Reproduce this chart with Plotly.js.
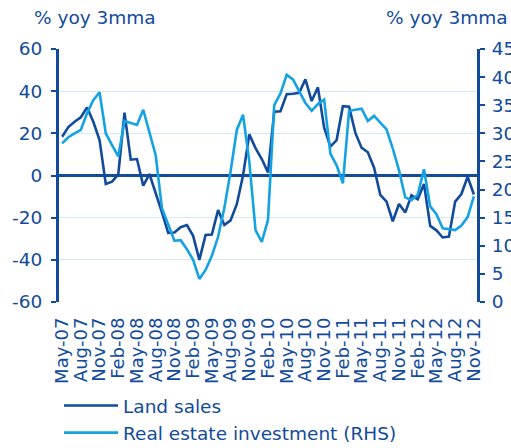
<!DOCTYPE html>
<html><head><meta charset="utf-8">
<script src="https://cdn.plot.ly/plotly-3.0.1.min.js"></script>
<style>html,body{margin:0;padding:0;background:#fff}#chart{width:511px;height:448px}</style>
</head><body><div id="chart"></div>
<script>
const months = ["May-07","Jun-07","Jul-07","Aug-07","Sep-07","Oct-07","Nov-07","Dec-07",
"Jan-08","Feb-08","Mar-08","Apr-08","May-08","Jun-08","Jul-08","Aug-08","Sep-08","Oct-08","Nov-08","Dec-08",
"Jan-09","Feb-09","Mar-09","Apr-09","May-09","Jun-09","Jul-09","Aug-09","Sep-09","Oct-09","Nov-09","Dec-09",
"Jan-10","Feb-10","Mar-10","Apr-10","May-10","Jun-10","Jul-10","Aug-10","Sep-10","Oct-10","Nov-10","Dec-10",
"Jan-11","Feb-11","Mar-11","Apr-11","May-11","Jun-11","Jul-11","Aug-11","Sep-11","Oct-11","Nov-11","Dec-11",
"Jan-12","Feb-12","Mar-12","Apr-12","May-12","Jun-12","Jul-12","Aug-12","Sep-12","Oct-12","Nov-12"];

const landSales = [18.4,23,25.5,27.6,32.3,25.5,16.8,-4,
-2.9,0.5,29.8,7.5,7.8,-4.8,0.7,-8,-17.5,-27.2,-27,-24.5,
-23.5,-28.6,-40,-28.2,-28,-16.4,-23.5,-21.3,-13.6,0,19.5,13,
7.8,1.5,30.3,30.5,38.6,38.8,39.2,45.6,35.3,41.8,22.7,13.7,
16.8,32.9,32.6,20.2,13.2,11,3.7,-9.2,-12.4,-21.7,-13.5,-17.6,
-9.4,-11.3,-4,-23.9,-26,-29.4,-29,-12.4,-8.8,-0.6,-9];

const realEstate = [28.2,29.3,30,30.6,33.6,35.9,37.3,30,
27.9,25.9,32.2,31.9,31.5,34.2,30.3,26.1,16.7,13.8,10.9,11,
9.4,7.5,4.1,5.7,8.2,11.6,16.7,23.2,30.6,33.3,25,12.8,
10.7,14.6,35,37.1,40.4,39.6,37.6,35.4,34,35.2,36,26.4,
24.3,21.1,34,34.2,34.4,32.2,33.1,31.9,30.7,27.3,23.4,18.6,
18.1,19.1,23.6,17,15.6,13.1,12.9,12.8,13.6,15.1,18.8];

const seriesNames = ["Land sales", "Real estate investment (RHS)"];
const axisTitle = "% yoy 3mma";
const leftTicks = [-60,-40,-20,0,20,40,60];
const rightTicks = [0,5,10,15,20,25,30,35,40,45];

const DARK = '#124b9c';
const LIGHT = '#14a2e2';
const GRID = '#d2eaf7';
const FONT = 'DejaVu Sans, Verdana, sans-serif';

const n = months.length;
const labelVals = months.filter((m, i) => i % 3 === 0);
const boundaryTicks = [];
for (let k = -0.5; k < n; k += 3) boundaryTicks.push(k);

const traces = [
  {x: months, y: landSales, type: 'scatter', mode: 'lines', name: seriesNames[0],
   line: {color: DARK, width: 2.6}, xaxis: 'x', yaxis: 'y'},
  {x: months, y: realEstate, type: 'scatter', mode: 'lines', name: seriesNames[1],
   line: {color: LIGHT, width: 2.6}, xaxis: 'x', yaxis: 'y2'}
];

const layout = {
  width: 511, height: 448,
  margin: {l: 59, r: 34, t: 49, b: 146, autoexpand: false},
  paper_bgcolor: '#fff', plot_bgcolor: '#fff',
  font: {family: FONT, color: DARK, size: 18.5},
  showlegend: true,
  legend: {x: 0, y: -0.336, xanchor: 'left', yanchor: 'top',
           font: {family: FONT, size: 18.5, color: DARK}, bgcolor: 'rgba(0,0,0,0)',
           itemwidth: 54, tracegroupgap: 0},
  xaxis: {type: 'category', range: [-0.5, n - 0.5], tickmode: 'array',
          tickvals: labelVals, ticktext: labelVals, tickangle: -90, ticks: '',
          showgrid: false, showline: false, zeroline: false, automargin: false,
          tickfont: {family: FONT, size: 18, color: DARK}, ticklabelstandoff: 11},
  xaxis2: {overlaying: 'x', anchor: 'free', position: 0.5, type: 'linear',
           range: [-0.5, n - 0.5], tickmode: 'array', tickvals: boundaryTicks,
           ticks: 'outside', ticklen: 5, tickwidth: 2, tickcolor: DARK, automargin: false,
           showticklabels: false, showgrid: false, zeroline: false, showline: false},
  yaxis: {range: [-60, 60], tickmode: 'array', tickvals: leftTicks, ticktext: leftTicks.map(String),
          showgrid: true, gridcolor: GRID, gridwidth: 1, automargin: false,
          zeroline: true, zerolinecolor: DARK, zerolinewidth: 3,
          showline: true, linecolor: DARK, linewidth: 3,
          ticks: 'outside', ticklen: 5, tickwidth: 2, tickcolor: DARK, ticklabelstandoff: 5,
          tickfont: {family: FONT, size: 18.5, color: DARK}},
  yaxis2: {overlaying: 'y', side: 'right', range: [0, 45], tickmode: 'array', tickvals: rightTicks,
           ticktext: rightTicks.map(String), automargin: false,
           showgrid: false, zeroline: false, showline: true, linecolor: DARK, linewidth: 3,
           ticks: 'outside', ticklen: 5, tickwidth: 2, tickcolor: DARK, ticklabelstandoff: 3,
           tickfont: {family: FONT, size: 18.5, color: DARK}},
  annotations: [
    {text: axisTitle, xref: 'paper', yref: 'paper', x: -0.0646, y: 1.126,
     xanchor: 'left', yanchor: 'middle', showarrow: false,
     font: {family: FONT, size: 18.5, color: DARK}},
    {text: axisTitle, xref: 'paper', yref: 'paper', x: 1.079, y: 1.126,
     xanchor: 'right', yanchor: 'middle', showarrow: false,
     font: {family: FONT, size: 18.5, color: DARK}}
  ]
};

Plotly.newPlot('chart', traces, layout, {displayModeBar: false, staticPlot: true});
</script></body></html>
